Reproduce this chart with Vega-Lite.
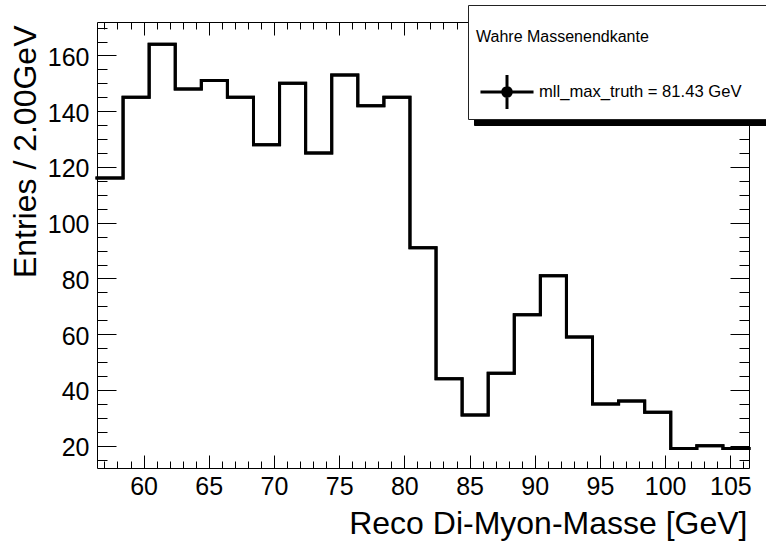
{
  "$schema": "https://vega.github.io/schema/vega-lite/v6.json",
  "width": 652,
  "height": 446,
  "autosize": "none",
  "padding": {"left": 97, "top": 22, "right": 17, "bottom": 76},
  "background": "white",
  "config": {
    "view": {"stroke": "black", "strokeWidth": 1},
    "font": "Liberation Sans",
    "axis": {"grid": false, "domain": false, "tickColor": "black", "tickWidth": 1, "labelColor": "black", "titleColor": "black", "titleFontWeight": "normal", "labelFont": "Liberation Sans", "titleFont": "Liberation Sans", "labelFlush": false},
    "legend": {"labelFont": "Liberation Sans", "titleFont": "Liberation Sans", "labelLimit": 0, "titleLimit": 0}
  },
  "data": {
    "values": [
      {"edge": 56.43, "count": 116, "series": "mll_max_truth = 81.43 GeV", "series2": "mll_max_truth = 81.43 GeV"},
      {"edge": 58.43, "count": 145, "series": "mll_max_truth = 81.43 GeV", "series2": "mll_max_truth = 81.43 GeV"},
      {"edge": 60.43, "count": 164, "series": "mll_max_truth = 81.43 GeV", "series2": "mll_max_truth = 81.43 GeV"},
      {"edge": 62.43, "count": 148, "series": "mll_max_truth = 81.43 GeV", "series2": "mll_max_truth = 81.43 GeV"},
      {"edge": 64.43, "count": 151, "series": "mll_max_truth = 81.43 GeV", "series2": "mll_max_truth = 81.43 GeV"},
      {"edge": 66.43, "count": 145, "series": "mll_max_truth = 81.43 GeV", "series2": "mll_max_truth = 81.43 GeV"},
      {"edge": 68.43, "count": 128, "series": "mll_max_truth = 81.43 GeV", "series2": "mll_max_truth = 81.43 GeV"},
      {"edge": 70.43, "count": 150, "series": "mll_max_truth = 81.43 GeV", "series2": "mll_max_truth = 81.43 GeV"},
      {"edge": 72.43, "count": 125, "series": "mll_max_truth = 81.43 GeV", "series2": "mll_max_truth = 81.43 GeV"},
      {"edge": 74.43, "count": 153, "series": "mll_max_truth = 81.43 GeV", "series2": "mll_max_truth = 81.43 GeV"},
      {"edge": 76.43, "count": 142, "series": "mll_max_truth = 81.43 GeV", "series2": "mll_max_truth = 81.43 GeV"},
      {"edge": 78.43, "count": 145, "series": "mll_max_truth = 81.43 GeV", "series2": "mll_max_truth = 81.43 GeV"},
      {"edge": 80.43, "count": 91, "series": "mll_max_truth = 81.43 GeV", "series2": "mll_max_truth = 81.43 GeV"},
      {"edge": 82.43, "count": 44, "series": "mll_max_truth = 81.43 GeV", "series2": "mll_max_truth = 81.43 GeV"},
      {"edge": 84.43, "count": 31, "series": "mll_max_truth = 81.43 GeV", "series2": "mll_max_truth = 81.43 GeV"},
      {"edge": 86.43, "count": 46, "series": "mll_max_truth = 81.43 GeV", "series2": "mll_max_truth = 81.43 GeV"},
      {"edge": 88.43, "count": 67, "series": "mll_max_truth = 81.43 GeV", "series2": "mll_max_truth = 81.43 GeV"},
      {"edge": 90.43, "count": 81, "series": "mll_max_truth = 81.43 GeV", "series2": "mll_max_truth = 81.43 GeV"},
      {"edge": 92.43, "count": 59, "series": "mll_max_truth = 81.43 GeV", "series2": "mll_max_truth = 81.43 GeV"},
      {"edge": 94.43, "count": 35, "series": "mll_max_truth = 81.43 GeV", "series2": "mll_max_truth = 81.43 GeV"},
      {"edge": 96.43, "count": 36, "series": "mll_max_truth = 81.43 GeV", "series2": "mll_max_truth = 81.43 GeV"},
      {"edge": 98.43, "count": 32, "series": "mll_max_truth = 81.43 GeV", "series2": "mll_max_truth = 81.43 GeV"},
      {"edge": 100.43, "count": 19, "series": "mll_max_truth = 81.43 GeV", "series2": "mll_max_truth = 81.43 GeV"},
      {"edge": 102.43, "count": 20, "series": "mll_max_truth = 81.43 GeV", "series2": "mll_max_truth = 81.43 GeV"},
      {"edge": 104.43, "count": 19, "series": "mll_max_truth = 81.43 GeV", "series2": "mll_max_truth = 81.43 GeV"},
      {"edge": 106.43, "count": 19, "series": "mll_max_truth = 81.43 GeV", "series2": "mll_max_truth = 81.43 GeV"}
    ]
  },
  "layer": [
    {
      "mark": {"type": "line", "interpolate": "step-after", "strokeWidth": 3, "strokeJoin": "miter", "strokeCap": "square", "color": "black"},
      "encoding": {
        "x": {"field": "edge", "type": "quantitative", "scale": {"domain": [56.43, 106.43], "nice": false, "zero": false},
          "axis": {"orient": "bottom", "values": [60, 65, 70, 75, 80, 85, 90, 95, 100, 105], "tickSize": -13, "labelFontSize": 25, "labelPadding": 19, "title": "Reco Di-Myon-Masse [GeV]", "titleFontSize": 32, "titleAnchor": "end", "titleAlign": "right", "titleBaseline": "alphabetic", "titleX": 650, "titleY": 65}},
        "y": {"field": "count", "type": "quantitative", "scale": {"domain": [12, 172], "nice": false, "zero": false},
          "axis": {"orient": "left", "values": [20, 40, 60, 80, 100, 120, 140, 160], "tickSize": -19, "labelFontSize": 25, "labelPadding": 27, "labelBaseline": "middle", "labelOffset": 2, "title": "Entries / 2.00GeV", "titleFontSize": 32, "titleAngle": 270, "titleAlign": "right", "titleBaseline": "alphabetic", "titleX": -62, "titleY": 3}},
        "stroke": {"field": "series", "type": "nominal", "scale": {"range": ["black"]},
          "legend": {"orient": "none", "legendX": 371, "legendY": -17, "zindex": 2, "padding": 8, "fillColor": "white", "strokeColor": "#222222",
            "title": ["", "Wahre Massenendkante"], "titleFontSize": 16, "titleFontWeight": "normal", "titleColor": "black", "titleLineHeight": 16, "titlePadding": 28.5,
            "labelFontSize": 16.6, "labelColor": "black", "labelOffset": 16, "symbolOffset": 15, "clipHeight": 37,
            "labelExpr": "datum.label + '\u00a0\u00a0\u00a0\u00a0\u00a0\u00a0\u200b'",
            "symbolType": "M-1.83,0L1.83,0M0,-1.17L0,1.17M0.3,0A0.3,0.3,0,1,1,-0.3,0A0.3,0.3,0,1,1,0.3,0Z",
            "symbolSize": 841, "symbolStrokeWidth": 3, "symbolStrokeColor": "black", "symbolFillColor": "black",
            "encode": {"symbols": {"update": {"fill": {"value": "black"}, "stroke": {"value": "black"}}}}}}
      }
    },
    {
      "mark": {"type": "line", "interpolate": "step-after", "strokeWidth": 3, "strokeJoin": "miter", "strokeCap": "square", "color": "black"},
      "encoding": {
        "x": {"field": "edge", "type": "quantitative",
          "axis": {"orient": "bottom", "values": [57, 58, 59, 61, 62, 63, 64, 66, 67, 68, 69, 71, 72, 73, 74, 76, 77, 78, 79, 81, 82, 83, 84, 86, 87, 88, 89, 91, 92, 93, 94, 96, 97, 98, 99, 101, 102, 103, 104, 106], "tickSize": -7, "labels": false, "title": null}},
        "y": {"field": "count", "type": "quantitative",
          "axis": {"orient": "left", "values": [15, 25, 30, 35, 45, 50, 55, 65, 70, 75, 85, 90, 95, 105, 110, 115, 125, 130, 135, 145, 150, 155, 165, 170], "tickSize": -10, "labels": false, "title": null}},
        "strokeDash": {"field": "series2", "type": "nominal", "scale": {"range": [[1, 0]]},
          "legend": {"orient": "none", "legendX": 377, "legendY": -11, "zindex": 1, "padding": 8, "fillColor": "black", "strokeColor": "black",
            "title": ["", "Wahre Massenendkante"], "titleFontSize": 16, "titleFontWeight": "normal", "titleColor": "black", "titleLineHeight": 16, "titlePadding": 28.5,
            "labelFontSize": 16.6, "labelColor": "black", "labelOffset": 16, "symbolOffset": 15, "clipHeight": 37,
            "labelExpr": "datum.label + '\u00a0\u00a0\u00a0\u00a0\u00a0\u00a0\u200b'",
            "symbolType": "M-1.83,0L1.83,0M0,-1.17L0,1.17M0.3,0A0.3,0.3,0,1,1,-0.3,0A0.3,0.3,0,1,1,0.3,0Z",
            "symbolSize": 841, "symbolStrokeWidth": 3, "symbolStrokeColor": "black", "symbolFillColor": "black",
            "encode": {"symbols": {"update": {"fill": {"value": "black"}, "stroke": {"value": "black"}}}}}}
      }
    },
    {
      "mark": {"type": "line", "interpolate": "step-after", "strokeWidth": 3, "opacity": 0},
      "encoding": {
        "x": {"field": "edge", "type": "quantitative",
          "axis": {"orient": "top", "values": [60, 65, 70, 75, 80, 85, 90, 95, 100, 105], "tickSize": -13, "labels": false, "title": null}},
        "y": {"field": "count", "type": "quantitative",
          "axis": {"orient": "right", "values": [20, 40, 60, 80, 100, 120, 140, 160], "tickSize": -19, "labels": false, "title": null}}
      }
    },
    {
      "mark": {"type": "line", "interpolate": "step-after", "strokeWidth": 3, "opacity": 0},
      "encoding": {
        "x": {"field": "edge", "type": "quantitative",
          "axis": {"orient": "top", "values": [57, 58, 59, 61, 62, 63, 64, 66, 67, 68, 69, 71, 72, 73, 74, 76, 77, 78, 79, 81, 82, 83, 84, 86, 87, 88, 89, 91, 92, 93, 94, 96, 97, 98, 99, 101, 102, 103, 104, 106], "tickSize": -7, "labels": false, "title": null}},
        "y": {"field": "count", "type": "quantitative",
          "axis": {"orient": "right", "values": [15, 25, 30, 35, 45, 50, 55, 65, 70, 75, 85, 90, 95, 105, 110, 115, 125, 130, 135, 145, 150, 155, 165, 170], "tickSize": -10, "labels": false, "title": null}}
      }
    }
  ],
  "resolve": {"scale": {"x": "shared", "y": "shared"}, "axis": {"x": "independent", "y": "independent"}}
}
